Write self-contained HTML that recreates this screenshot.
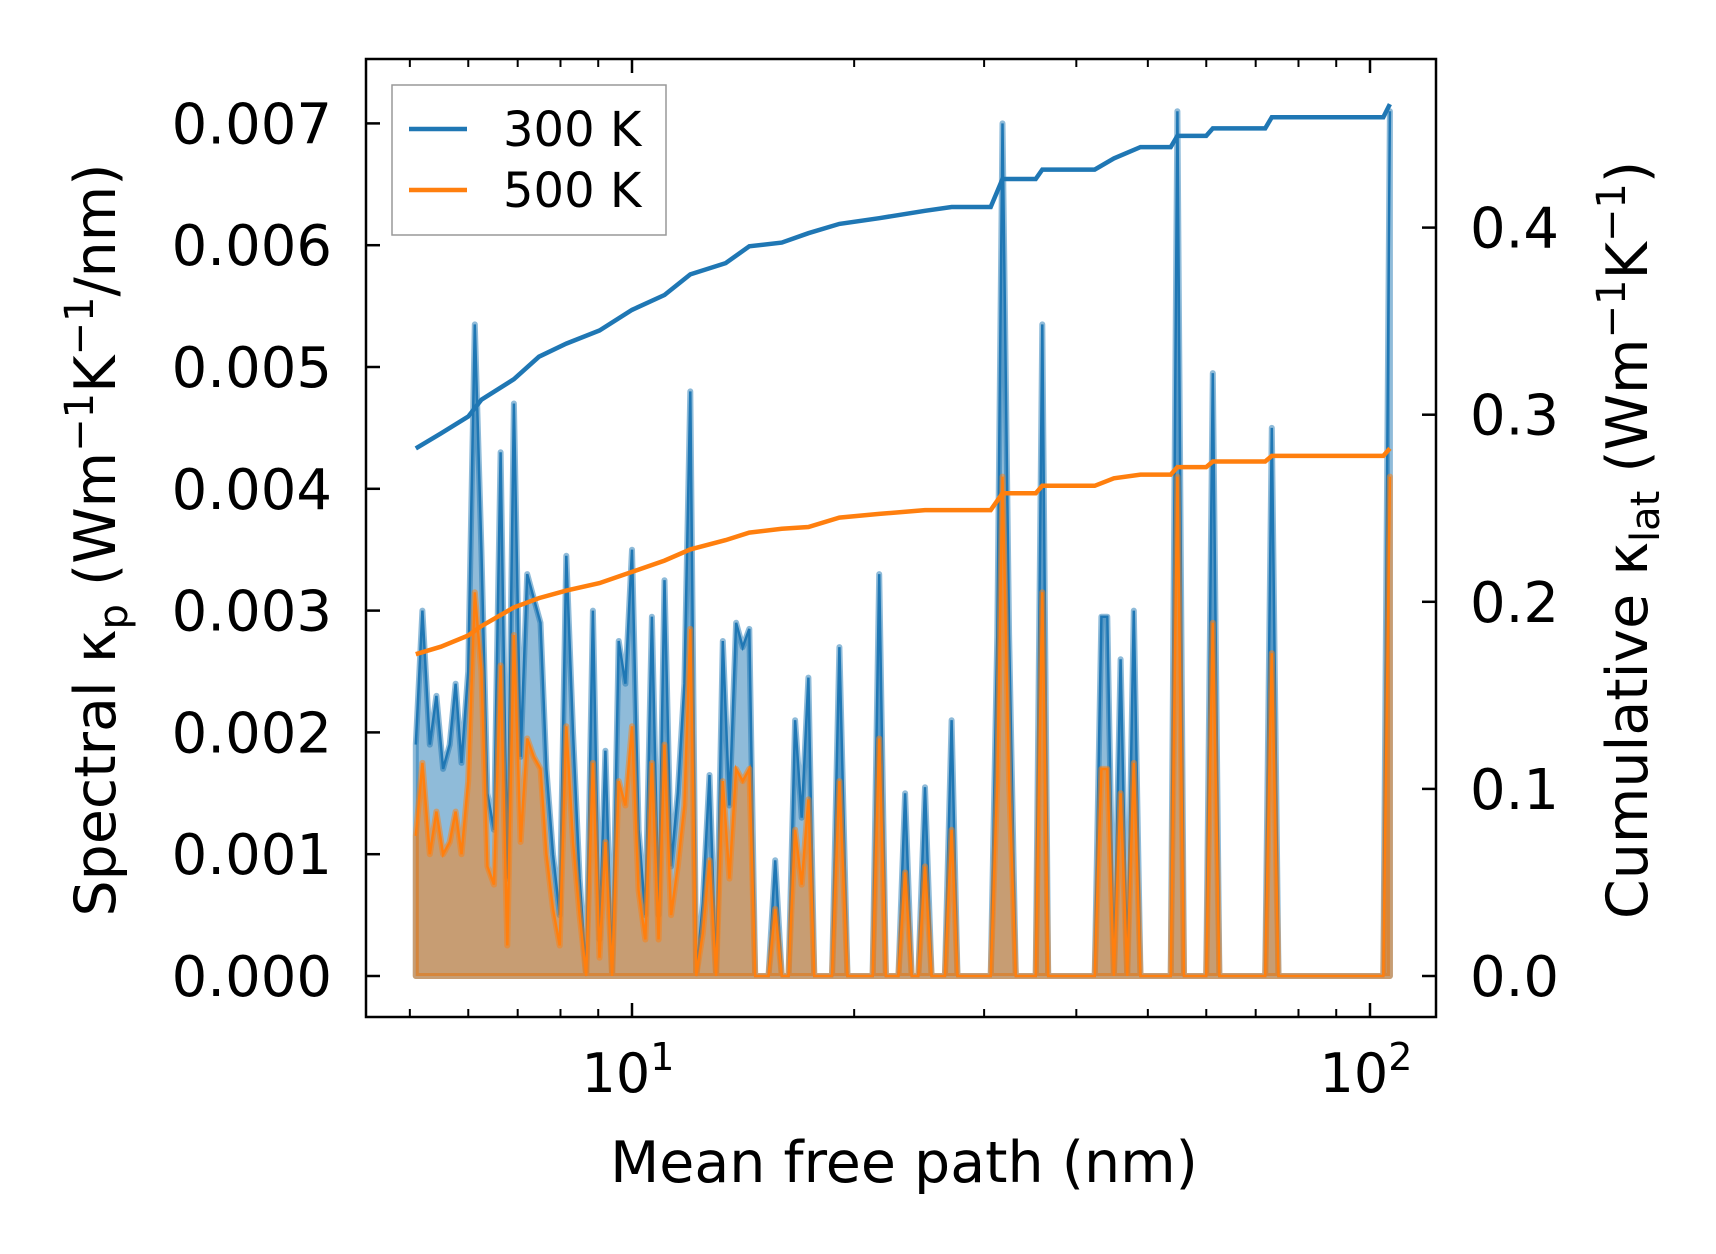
<!DOCTYPE html>
<html><head><meta charset="utf-8"><style>
html,body{margin:0;padding:0;background:#fff;}
svg{display:block;font-family:"DejaVu Sans","Liberation Sans",sans-serif;}
</style></head><body>
<svg id="chart" width="1716" height="1254" viewBox="0 0 1716 1254" xmlns="http://www.w3.org/2000/svg">
<rect width="1716" height="1254" fill="#fff"/>
<g id="plot"></g>
</svg>
<script>
// ---- data ----
const mfpLog10 = [0.707,0.716,0.726,0.735,0.744,0.753,0.761,0.769,0.778,0.787,0.796,0.804,0.813,0.822,0.831,0.840,0.849,0.858,0.867,0.876,0.884,0.893,0.902,0.911,0.920,0.929,0.938,0.947,0.956,0.964,0.973,0.982,0.991,1.000,1.009,1.018,1.027,1.036,1.044,1.053,1.062,1.071,1.079,1.087,1.096,1.105,1.114,1.123,1.132,1.141,1.150,1.159,1.167,1.185,1.194,1.203,1.212,1.221,1.230,1.239,1.247,1.271,1.281,1.292,1.326,1.335,1.344,1.361,1.370,1.379,1.388,1.397,1.406,1.424,1.433,1.441,1.486,1.495,1.502,1.511,1.520,1.547,1.556,1.564,1.627,1.636,1.644,1.653,1.662,1.671,1.680,1.689,1.730,1.739,1.748,1.778,1.787,1.796,1.858,1.867,1.876,2.018,2.027];
const spec300 = [1.9,3.0,1.9,2.3,1.7,1.9,2.4,1.75,2.5,5.35,3.5,1.5,1.2,4.3,0.8,4.7,1.8,3.3,3.1,2.9,1.7,1.0,0.5,3.45,2.0,0.8,0,3.0,0.3,1.85,0,2.75,2.4,3.5,1.2,0.5,2.95,0.5,3.25,0.9,1.5,2.4,4.8,0,0.6,1.65,0,2.75,1.4,2.9,2.7,2.85,0,0,0.95,0,0,2.1,1.3,2.45,0,0,2.7,0,0,3.3,0,0,1.5,0,0,1.55,0,0,2.1,0,0,2.8,7.0,2.8,0,0,5.35,0,0,2.95,2.95,0,2.6,0,3.0,0,0,7.1,0,0,4.95,0,0,4.5,0,0,7.1];
const spec500 = [1.15,1.75,1.0,1.35,1.0,1.1,1.35,1.0,1.6,3.15,2.5,0.9,0.75,2.55,0.25,2.8,1.1,1.95,1.8,1.7,1.0,0.55,0.25,2.05,1.1,0.5,0,1.75,0.15,1.1,0,1.6,1.4,2.05,0.7,0.3,1.75,0.3,1.9,0.5,0.9,1.4,2.85,0,0.35,0.95,0,1.6,0.8,1.7,1.6,1.7,0,0,0.55,0,0,1.2,0.75,1.45,0,0,1.6,0,0,1.95,0,0,0.85,0,0,0.9,0,0,1.2,0,0,1.6,4.1,1.6,0,0,3.15,0,0,1.7,1.7,0,1.5,0,1.75,0,0,4.1,0,0,2.9,0,0,2.65,0,0,4.1];
const cumLog10 = [0.707,0.741,0.778,0.796,0.840,0.874,0.911,0.956,1.000,1.044,1.079,1.127,1.159,1.203,1.239,1.281,1.335,1.397,1.433,1.486,1.502,1.547,1.556,1.627,1.653,1.689,1.730,1.739,1.778,1.787,1.858,1.867,2.018,2.027];
const cum300 = [0.282,0.290,0.299,0.308,0.319,0.331,0.338,0.345,0.356,0.364,0.375,0.381,0.390,0.392,0.397,0.402,0.405,0.409,0.411,0.411,0.426,0.426,0.431,0.431,0.437,0.443,0.443,0.449,0.449,0.453,0.453,0.459,0.459,0.466];
const cum500 = [0.172,0.176,0.182,0.187,0.197,0.202,0.206,0.210,0.216,0.222,0.228,0.233,0.237,0.239,0.240,0.245,0.247,0.249,0.249,0.249,0.258,0.258,0.262,0.262,0.266,0.268,0.268,0.272,0.272,0.275,0.275,0.278,0.278,0.282];
const leftTicks = [0,1,2,3,4,5,6,7];
const leftTickLabels = ["0.000","0.001","0.002","0.003","0.004","0.005","0.006","0.007"];
const rightTicks = [0,0.1,0.2,0.3,0.4];
const rightTickLabels = ["0.0","0.1","0.2","0.3","0.4"];

// ---- axes ----
const L=366,R=1436,T=59,B=1017;
const X = lg => 632 + (lg-1)*738;
const YL = v => 976 - v*121.8;
const YR = k => 976 - k*1871;
const NS="http://www.w3.org/2000/svg";
const g=document.getElementById('plot');
function mk(tag,attrs,parent){const e=document.createElementNS(NS,tag);for(const k in attrs)e.setAttribute(k,attrs[k]);(parent||g).appendChild(e);return e;}

function areaPath(ys){
  let d=`M${X(mfpLog10[0])},${YL(0)}`;
  mfpLog10.forEach((lg,i)=>{d+=` L${X(lg).toFixed(1)},${YL(ys[i]).toFixed(1)}`;});
  d+=` L${X(mfpLog10[mfpLog10.length-1])},${YL(0)} Z`;return d;
}
function linePath(xs,ys,yf){return xs.map((lg,i)=>(i?'L':'M')+X(lg).toFixed(1)+','+yf(ys[i]).toFixed(1)).join(' ');}

const series=[{v:spec300,c:"#1f77b4",n:"300k"},{v:spec500,c:"#ff7f0e",n:"500k"}];
series.forEach(s=>{
  const a=mk('path',{d:areaPath(s.v),fill:s.c,'fill-opacity':0.5,stroke:s.c,'stroke-opacity':0.5,'stroke-width':6,'stroke-linejoin':'round'});
  
  
  const l=mk('path',{d:linePath(mfpLog10,s.v,YL),fill:'none',stroke:s.c,'stroke-width':2.5});
  
  
});
[{v:cum300,c:"#1f77b4",n:"300k"},{v:cum500,c:"#ff7f0e",n:"500k"}].forEach(s=>{
  const l=mk('path',{d:linePath(cumLog10,s.v,YR),fill:'none',stroke:s.c,'stroke-width':4.5});
  
  
});

// frame
const fr=mk('rect',{x:L,y:T,width:R-L,height:B-T,fill:'none',stroke:'#000','stroke-width':2.5});



// left ticks
leftTicks.forEach((v,i)=>{
  mk('line',{x1:L,x2:L+14,y1:YL(v),y2:YL(v),stroke:'#000','stroke-width':2.5});
  const t=mk('text',{x:332,y:YL(v)+20,'text-anchor':'end','font-size':56});
  t.textContent=leftTickLabels[i];
  
  
});
rightTicks.forEach((v,i)=>{
  mk('line',{x1:R-14,x2:R,y1:YR(v),y2:YR(v),stroke:'#000','stroke-width':2.5});
  const t=mk('text',{x:1470,y:YR(v)+20,'font-size':56});
  t.textContent=rightTickLabels[i];
  
  
});
// x ticks
for(let dec=0;dec<=2;dec++){
  for(let m=1;m<10;m++){
    const lg=dec+Math.log10(m);
    const x=X(lg);
    if(x<L||x>R) continue;
    const len=m===1?14:8;
    mk('line',{x1:x,x2:x,y1:B,y2:B-len,stroke:'#000','stroke-width':m===1?2.5:2});
    mk('line',{x1:x,x2:x,y1:T,y2:T+len,stroke:'#000','stroke-width':m===1?2.5:2});
  }
}
[[1,"1"],[2,"2"]].forEach(([lg,e])=>{
  const t=mk('text',{x:X(lg)-4,y:1092,'text-anchor':'middle','font-size':54});
  t.textContent='10';
  const s=mk('tspan',{dy:-22,'font-size':38});s.textContent=e;t.appendChild(s);
  
  
});

// axis titles
let t=mk('text',{x:904,y:1182,'text-anchor':'middle','font-size':57});
t.textContent='Mean free path (nm)';



t=mk('text',{transform:'translate(115,540) rotate(-90)','text-anchor':'middle','font-size':57});
t.innerHTML='Spectral κ<tspan dy="12" font-size="40">p</tspan><tspan dy="-12"> (Wm</tspan><tspan dy="-22" font-size="40">−1</tspan><tspan dy="22">K</tspan><tspan dy="-22" font-size="40">−1</tspan><tspan dy="22">/nm)</tspan>';



t=mk('text',{transform:'translate(1647,540) rotate(-90)','text-anchor':'middle','font-size':57});
t.innerHTML='Cumulative κ<tspan dy="12" font-size="40">lat</tspan><tspan dy="-12"> (Wm</tspan><tspan dy="-22" font-size="40">−1</tspan><tspan dy="22">K</tspan><tspan dy="-22" font-size="40">−1</tspan><tspan dy="22">)</tspan>';



// legend
const lg=mk('g',{});


mk('rect',{x:392,y:85,width:274,height:150,fill:'#fff','fill-opacity':0.8,stroke:'#999','stroke-width':1.5},lg);
[["300 K","#1f77b4",129],["500 K","#ff7f0e",190]].forEach(([lab,c,y])=>{
  const e=mk('g',{},lg);
  
  
  mk('line',{x1:409,x2:467,y1:y,y2:y,stroke:c,'stroke-width':4.5},e);
  const tt=mk('text',{x:503,y:y+17,'font-size':48},e);tt.textContent=lab;
});
</script>
</body></html>
